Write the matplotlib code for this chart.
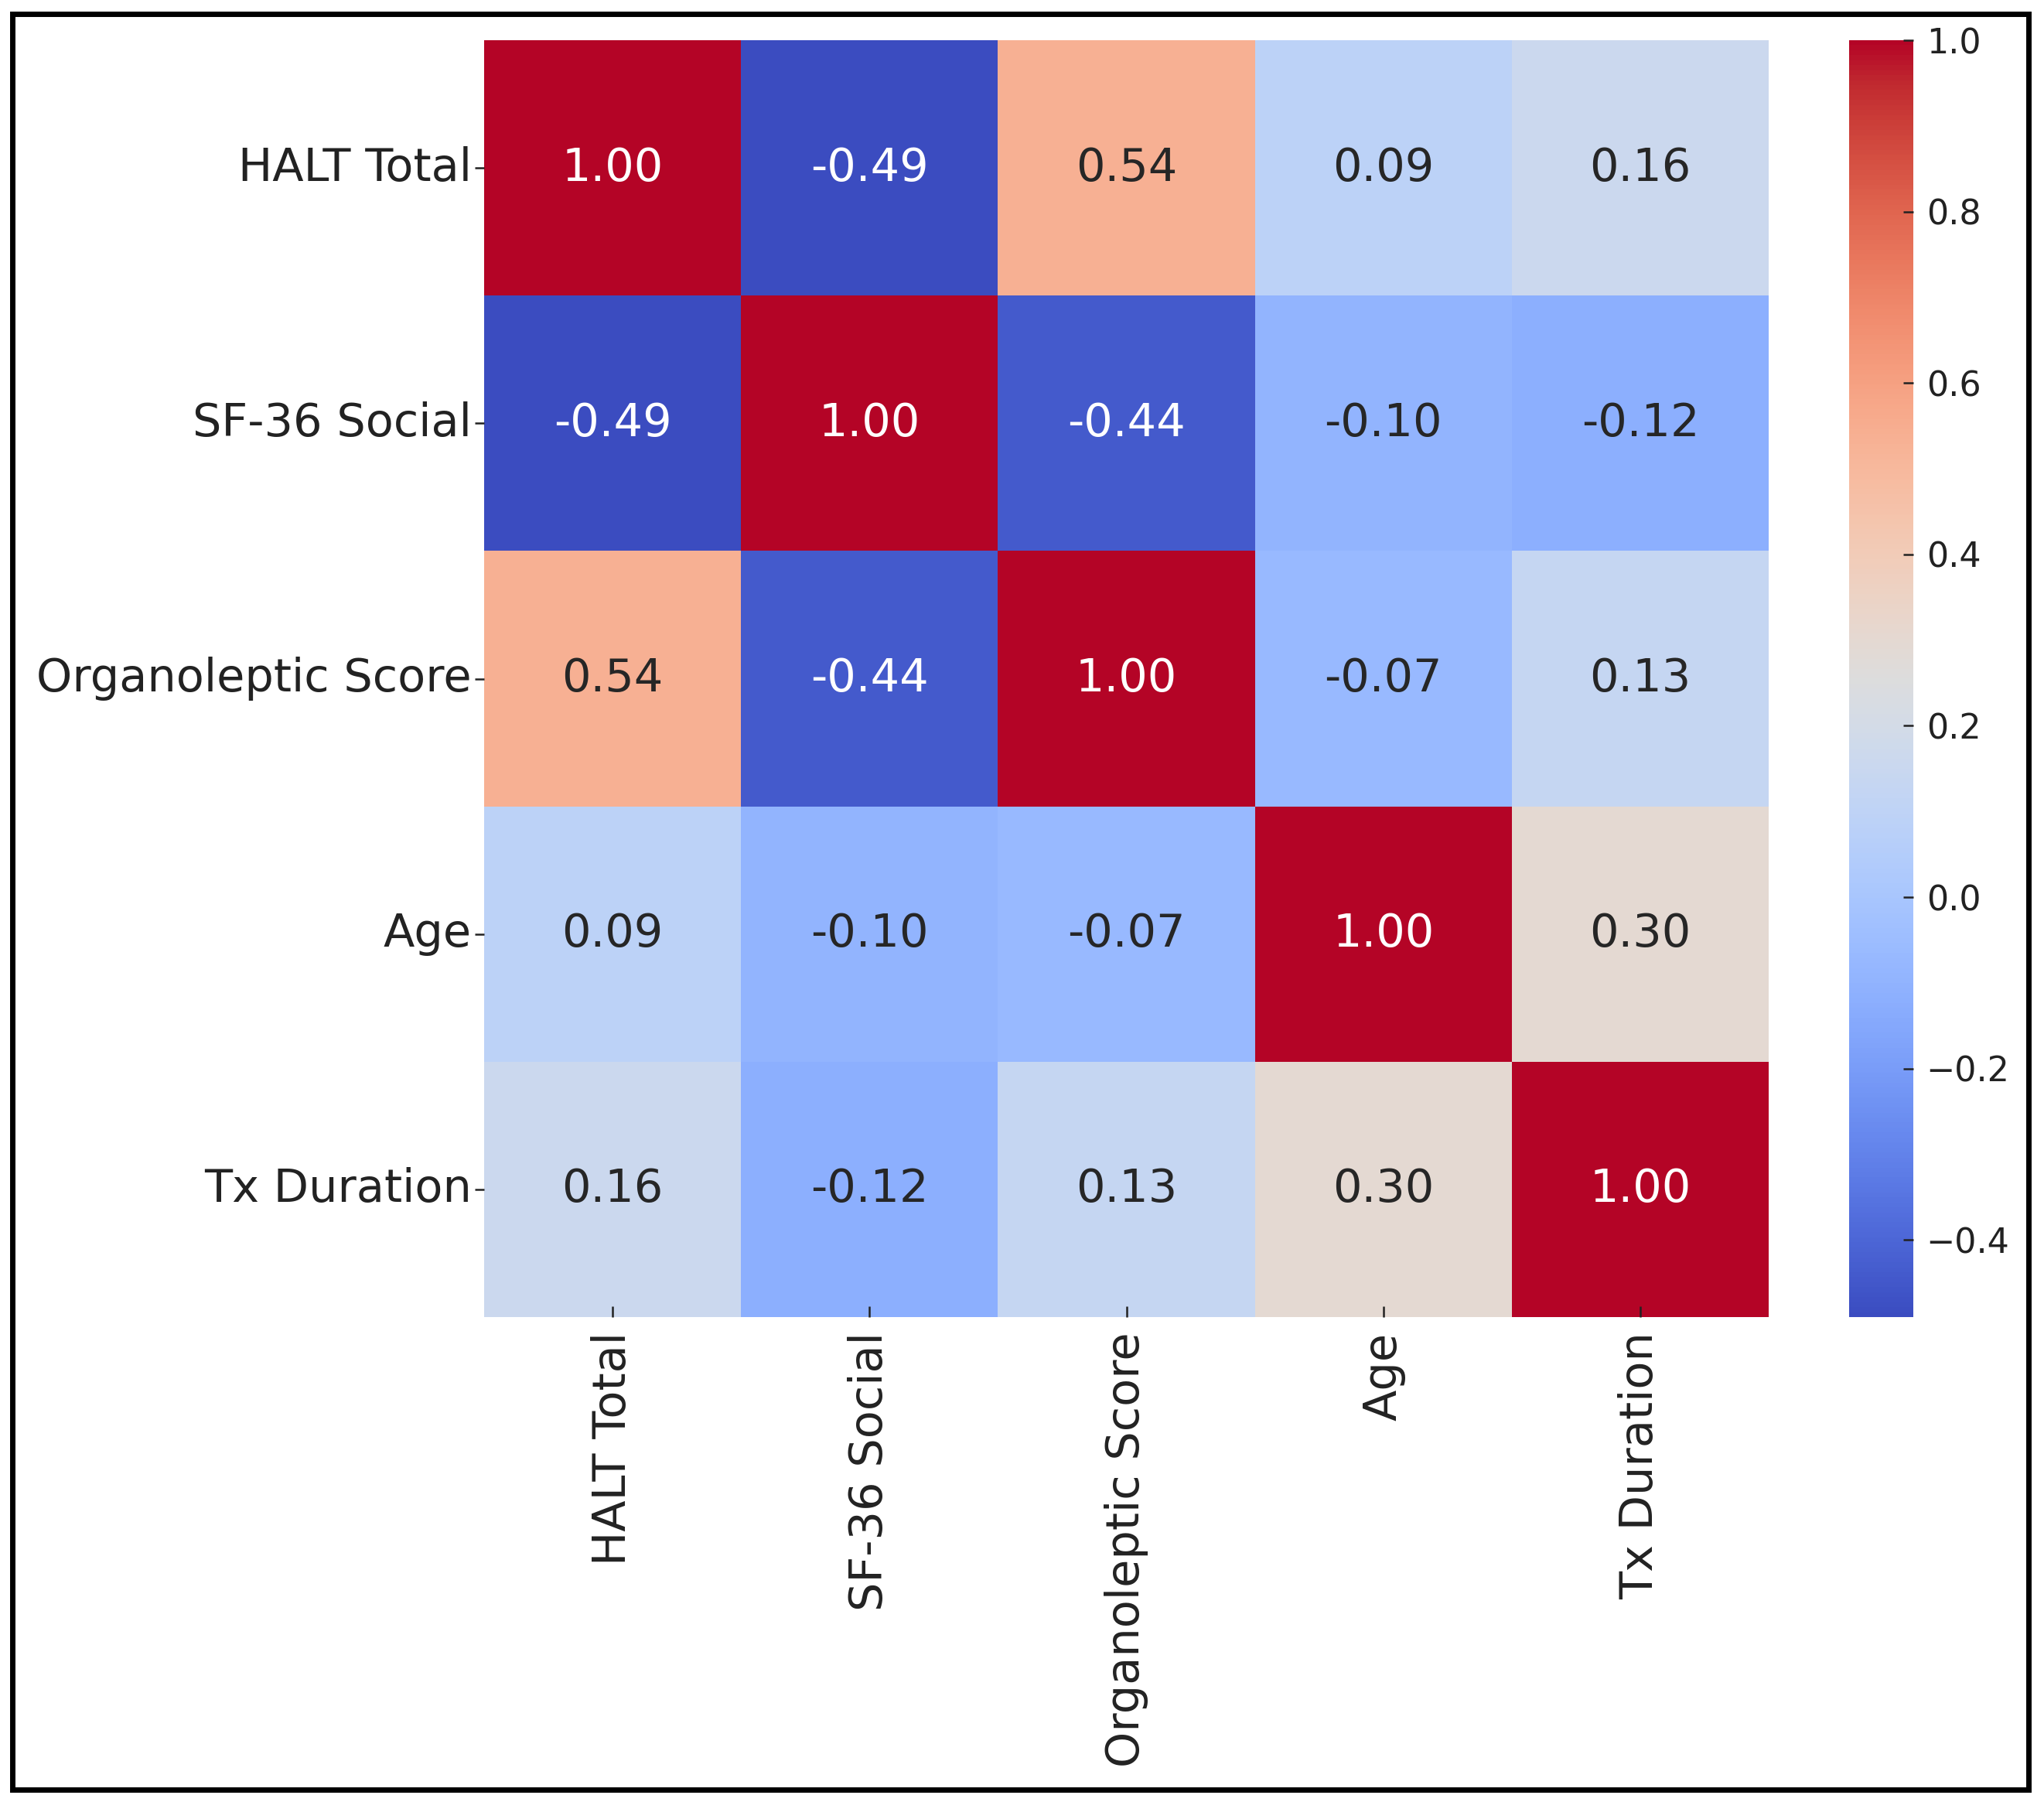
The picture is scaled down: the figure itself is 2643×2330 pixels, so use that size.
import numpy as np
import matplotlib
matplotlib.use("Agg")
import matplotlib.pyplot as plt
from matplotlib.patches import Rectangle

# variables and correlation values
labels = ["HALT Total", "SF-36 Social", "Organoleptic Score", "Age", "Tx Duration"]
halt_total = [1.00, -0.49, 0.54, 0.09, 0.16]
sf36_social = [-0.49, 1.00, -0.44, -0.10, -0.12]
organoleptic = [0.54, -0.44, 1.00, -0.07, 0.13]
age = [0.09, -0.10, -0.07, 1.00, 0.30]
tx_duration = [0.16, -0.12, 0.13, 0.30, 1.00]
cbar_ticks = [-0.4, -0.2, 0.0, 0.2, 0.4, 0.6, 0.8, 1.0]

corr = np.array([halt_total, sf36_social, organoleptic, age, tx_duration])
n = len(labels)

W, H = 2643, 2330
fig = plt.figure(figsize=(W / 100, H / 100), dpi=100)
txt = "#222222"
fs = 42.5

ax = fig.add_axes([626 / W, 1 - 1703 / H, 1661 / W, 1651 / H])
cax = fig.add_axes([2391 / W, 1 - 1703 / H, 83 / W, 1651 / H])

cmap = plt.get_cmap("coolwarm")
norm = matplotlib.colors.Normalize(vmin=corr.min(), vmax=corr.max())
mesh = ax.pcolormesh(np.arange(n + 1), np.arange(n + 1), corr, cmap=cmap, norm=norm)
ax.set_xlim(0, n)
ax.set_ylim(n, 0)

# annotations, light text on dark cells like seaborn does
for i in range(n):
    for j in range(n):
        r, g, b, _ = cmap(norm(corr[i, j]))
        lum = 0.2126 * r + 0.7152 * g + 0.0722 * b
        col = "white" if lum < 0.408 else "#262626"
        ax.text(j + 0.5, i + 0.5, f"{corr[i, j]:.2f}", ha="center", va="center",
                fontsize=fs, color=col)

ax.set_xticks(np.arange(n) + 0.5)
ax.set_yticks(np.arange(n) + 0.5)
ax.set_xticklabels(labels, rotation=90, fontsize=fs, color=txt)
ax.set_yticklabels(labels, fontsize=fs, color=txt, va="center")
ax.tick_params(axis="x", direction="in", length=10, width=1.8, pad=14, color=txt)
ax.tick_params(axis="y", direction="out", length=9, width=1.8, pad=2.5, color=txt)
for s in ax.spines.values():
    s.set_visible(False)

cb = fig.colorbar(mesh, cax=cax)
cb.set_ticks(cbar_ticks)
cb.outline.set_visible(False)
cax.tick_params(direction="in", length=9.5, width=1.8, pad=12, labelsize=32,
                color=txt, labelcolor=txt)

# black frame around the whole picture
fig.patches.append(Rectangle((16 / W, 1 - 2314 / H), 2607 / W, 2296 / H,
                             transform=fig.transFigure, fill=False,
                             edgecolor="black", linewidth=5))

fig.savefig("out.png", dpi=100)
